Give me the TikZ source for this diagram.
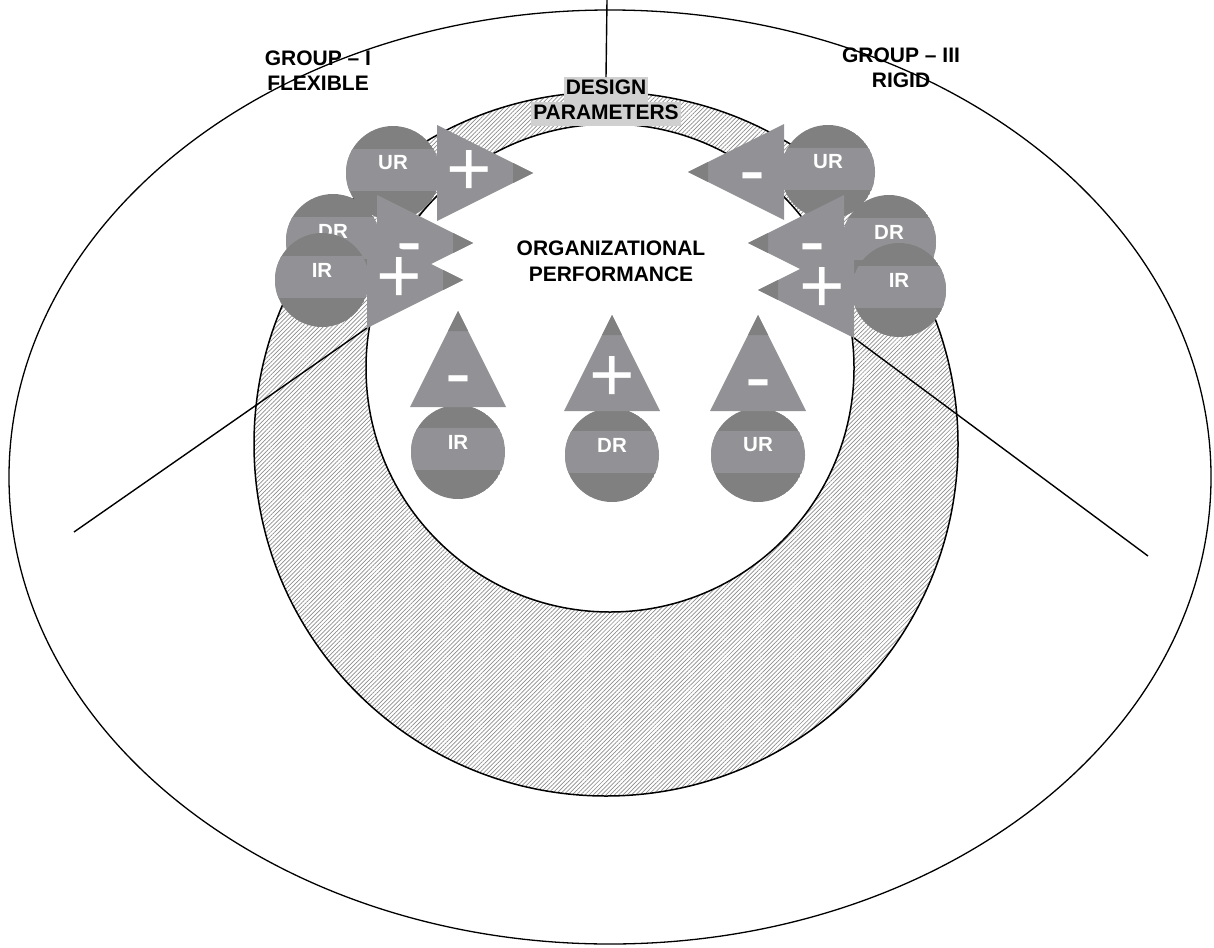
\documentclass[tikz,border=0pt]{standalone}
\usepackage{fontspec}
\setmainfont{Liberation Sans}
\usepackage{xcolor}
\usepackage{tikz}
\usetikzlibrary{patterns.meta}
\definecolor{discdark}{RGB}{128,128,128}
\definecolor{disclight}{RGB}{146,146,150}
\definecolor{hlgray}{RGB}{208,208,208}
\newcommand{\hlline}[1]{{\setlength{\fboxsep}{0pt}\colorbox{hlgray}{\hspace{2pt}\strut #1\hspace{2pt}}}}
\newcommand{\resdisc}[4]{%
  \begin{scope}
    \clip (#2,#3) circle [radius=47];
    \fill[discdark] (#2,#3) circle [radius=47];
    \fill[disclight] (#2-50,#3-24) rectangle (#2+50,#3+18);
  \end{scope}
  \node[disclabel] (#1) at (#2,#3-10) {#4};
}
\newcommand{\reswedge}[6]{%
  \begin{scope}[shift={(#2,#3)}, rotate=#4]
    \fill[disclight] (0,0) -- (-96,48) -- (-96,-48) -- cycle;
    \fill[discdark] (0,0) -- (-20,10) -- (-20,-10) -- cycle;
    \coordinate (#1-a) at (-96,48);
    \coordinate (#1-b) at (-96,-48);
    \coordinate (#1-c) at (-64,0);
  \end{scope}
  \node[#5] (#1) at (#1-c) {#6};
}

\begin{document}
\begin{tikzpicture}[x=1pt, y=-1pt,
    rule/.style={draw=black, line width=1.4pt},
    ring/.style={draw=black, line width=1.5pt},
    disclabel/.style={text=white, font=\bfseries\fontsize{20.5}{24}\selectfont, inner sep=0pt},
    plusmark/.style={text=white, font=\fontsize{78}{78}\selectfont, inner sep=0pt, anchor=base, yshift=-22pt, text height=44pt, text depth=-5pt},
    minusmark/.style={text=white, font=\fontsize{78}{78}\selectfont, inner sep=0pt, anchor=base, yshift=-24pt, text height=30pt, text depth=-20pt},
    caption/.style={font=\bfseries\fontsize{21}{25.5}\selectfont, align=center, inner sep=0pt, anchor=base}
]
\useasboundingbox (0,0) rectangle (1214,947);
\draw[line width=1.3pt] (610,477) ellipse [x radius=601, y radius=467];
\fill[pattern={Lines[angle=45,distance=3pt,line width=0.7pt]}, pattern color=black!45] (606,444) circle [radius=352];
\fill[white] (610,368) circle [radius=244];
\draw[ring] (606,444) circle [radius=352];
\draw[ring] (610,368) circle [radius=244];

\node[caption, font=\bfseries\fontsize{21}{24.5}\selectfont] (design) at (606,119) {\hlline{DESIGN}\\\hlline{PARAMETERS}};
\coordinate (topend) at (607,0);
\coordinate (leftend) at (74,532);
\coordinate (rightend) at (1148,556);
\draw[rule] (topend) -- (design.north);

\resdisc{lur}{393}{173}{UR}
\reswedge{lplusup}{533}{173}{0}{plusmark}{+}
\resdisc{ldr}{333}{241}{DR}
\reswedge{lminus}{473}{243}{0}{minusmark}{-}
\resdisc{lir}{322}{280}{IR}
\reswedge{lpluslow}{463}{280}{0}{plusmark}{+}

\resdisc{rur}{828}{172}{UR}
\reswedge{rminusup}{688}{172}{180}{minusmark}{-}
\resdisc{rdr}{889}{242}{DR}
\reswedge{rminus}{748}{243}{180}{minusmark}{-}
\resdisc{rir}{899}{290}{IR}
\reswedge{rpluslow}{758}{290}{180}{plusmark}{+}

\resdisc{bir}{458}{452}{IR}
\reswedge{bminusir}{458}{311}{90}{minusmark}{-}
\resdisc{bdr}{612}{455}{DR}
\reswedge{bplusdr}{612}{315}{90}{plusmark}{+}
\resdisc{bur}{758}{455}{UR}
\reswedge{bminusur}{758}{315}{90}{minusmark}{-}

\draw[rule] (leftend) -- (lpluslow-a);
\draw[rule] (rightend) -- (rpluslow-b);

\node[caption] (flexible) at (318,91) {GROUP – I\\FLEXIBLE};
\node[caption] (rigid) at (901,88) {GROUP – III\\RIGID};
\node[caption] (perf) at (611,281) {ORGANIZATIONAL\\PERFORMANCE};
\end{tikzpicture}
\end{document}
